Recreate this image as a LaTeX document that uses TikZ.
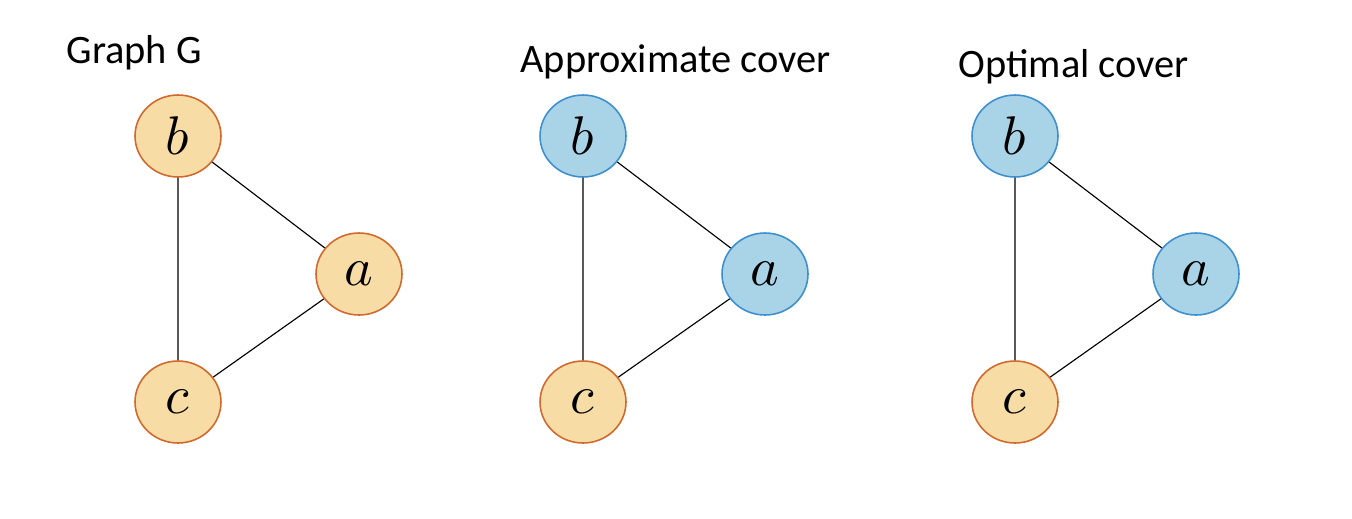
\documentclass[tikz,border=0pt]{standalone}
\usepackage{fontspec}
\usepackage{unicode-math}
\setmainfont{Carlito}
\usetikzlibrary{shapes.geometric}
\definecolor{peach}{HTML}{F7DCA6}
\definecolor{rust}{HTML}{D2692C}
\definecolor{sky}{HTML}{A9D3E7}
\definecolor{ocean}{HTML}{3D8FCF}
\tikzset{
  vtx/.style={ellipse,draw,line width=0.9pt,minimum width=1.72cm,minimum height=1.64cm,
    inner sep=0pt,font=\fontsize{31}{34}\selectfont},
  freevtx/.style={vtx,fill=peach,draw=rust},
  covvtx/.style={vtx,fill=sky,draw=ocean},
  title/.style={anchor=base west,inner sep=0pt,font=\fontsize{23}{27}\selectfont}
}
\begin{document}
\begin{tikzpicture}[x=0.02cm,y=-0.02cm,line width=0.65pt]
        \useasboundingbox (0,0) rectangle (1352,518);
        \path (66,63)   node[title] (t1) {Graph G}
              (520,72)  node[title] (t2) {Approximate cover}
              (958,77)  node[title] (t3) {Optimal cover};
        % graph G
        \path (178,136) node[freevtx] (b1) {$b$}
              (359,274) node[freevtx] (a1) {$a$}
              (178,402) node[freevtx] (c1) {$c$};
        % approximate cover
        \path (583,136) node[covvtx]  (b2) {$b$}
              (765,274) node[covvtx]  (a2) {$a$}
              (583,402) node[freevtx] (c2) {$c$};
        % optimal cover
        \path (1015,136) node[covvtx]  (b3) {$b$}
              (1196,274) node[covvtx]  (a3) {$a$}
              (1015,402) node[freevtx] (c3) {$c$};
        \draw (b1) -- (a1) (a1) -- (c1) (c1) -- (b1);
        \draw (b2) -- (a2) (a2) -- (c2) (c2) -- (b2);
        \draw (b3) -- (a3) (a3) -- (c3) (c3) -- (b3);
      \end{tikzpicture}
\end{document}
